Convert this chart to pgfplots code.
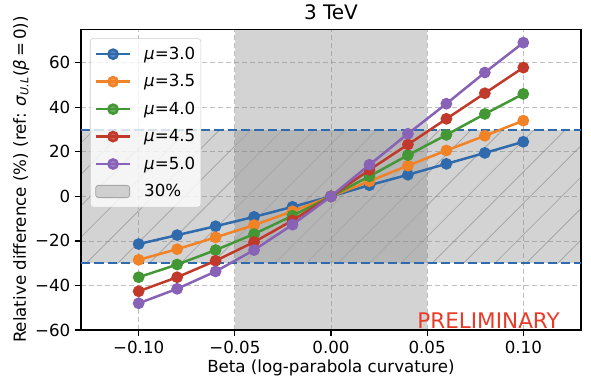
\documentclass[border=0pt]{standalone}
\usepackage{fontspec}
\setmainfont{DejaVu Sans}
\usepackage{pgfplots}
\pgfplotsset{compat=1.18}
\usetikzlibrary{patterns.meta}
\definecolor{cA}{RGB}{47,107,172}
\definecolor{cB}{RGB}{241,130,38}
\definecolor{cC}{RGB}{67,152,53}
\definecolor{cD}{RGB}{192,57,43}
\definecolor{cE}{RGB}{136,98,182}
\definecolor{prelim}{RGB}{233,60,40}
\definecolor{hatch}{RGB}{168,168,168}

\begin{document}
\begin{tikzpicture}
\begin{axis}[
  at={(0,0)}, anchor=south west,
  scale only axis, width=360pt, height=216.5pt,
  set layers, clip mode=individual,
  xmin=-0.13, xmax=0.13, ymin=-60, ymax=75,
  xtick={-0.1,-0.05,0,0.05,0.1},
  xticklabels={−0.10,−0.05,0.00,0.05,0.10},
  ytick={-60,-40,-20,0,20,40,60},
  yticklabels={−60,−40,−20,0,20,40,60},
  tick align=outside, xtick pos=bottom, ytick pos=left,
  major tick length=4.2pt,
  tick style={black, line width=0.9pt},
  axis line style={line width=0.9pt},
  grid=major,
  major grid style={gray, draw opacity=0.5, line width=0.6pt, dash pattern=on 3.6pt off 2.2pt},
  ticklabel style={font=\fontsize{12}{14}\selectfont},
  label style={font=\fontsize{12}{14}\selectfont},
  xlabel={Beta (log-parabola curvature)},
  xlabel style={at={(axis description cs:0.5,-0.142)}, anchor=base},
  ylabel={Relative difference (\%) (ref: \textit{σ}\textsubscript{\textit{U.L}}(\textit{β}\,=\,0))},
  ylabel style={at={(axis description cs:-0.11,0.5)}, anchor=base},
  every axis plot/.append style={line width=1.8pt, mark=*, mark size=3.3pt, mark options={solid}},
  legend style={at={(0.018,0.970)}, anchor=north west,
    font=\fontsize{12}{14}\selectfont, draw=black!20, rounded corners=2pt,
    fill=white, fill opacity=0.8, text opacity=1, row sep=5.4pt,
    inner xsep=3pt, inner ysep=4pt, nodes={inner xsep=1pt},
    /tikz/every odd column/.append style={column sep=8pt}},
  legend cell align=left,
  legend image code/.code={\draw[mark repeat=2,mark phase=2] plot coordinates {(0cm,0cm) (0.44cm,0cm) (0.88cm,0cm)};},
]
% shaded regions
\addplot[on layer=axis background, forget plot, draw=none, mark=none, fill=gray, fill opacity=0.35]
  coordinates {(-0.05,-60) (0.05,-60) (0.05,75) (-0.05,75)} -- cycle;
\addplot[on layer=axis background, forget plot, draw=none, mark=none, fill=gray, fill opacity=0.35]
  coordinates {(-0.13,-30) (0.13,-30) (0.13,30) (-0.13,30)} -- cycle;
\addplot[on layer=axis background, forget plot, draw=none, mark=none,
  pattern={Lines[angle=45,distance=16pt,line width=0.6pt]}, pattern color=hatch]
  coordinates {(-0.13,-30) (0.13,-30) (0.13,30) (-0.13,30)} -- cycle;
% 30% limits
\addplot[forget plot, cA, mark=none, line width=1.5pt, dash pattern=on 6.7pt off 2.9pt]
  coordinates {(-0.13,30) (0.13,30)};
\addplot[forget plot, cA, mark=none, line width=1.5pt, dash pattern=on 6.7pt off 2.9pt]
  coordinates {(-0.13,-30) (0.13,-30)};

\addplot[cA, mark options={fill=cA}] coordinates {
  (-0.10,-21.4) (-0.08,-17.4) (-0.06,-13.4) (-0.04,-9.2) (-0.02,-4.7) (0,0)
  (0.02,5.0) (0.04,9.7) (0.06,14.6) (0.08,19.5) (0.10,24.5)};
\addlegendentry{\textit{μ}=3.0}
\addplot[cB, mark options={fill=cB}] coordinates {
  (-0.10,-28.5) (-0.08,-23.7) (-0.06,-18.4) (-0.04,-12.9) (-0.02,-6.7) (0,0)
  (0.02,6.8) (0.04,13.8) (0.06,20.6) (0.08,27.2) (0.10,34.0)};
\addlegendentry{\textit{μ}=3.5}
\addplot[cC, mark options={fill=cC}] coordinates {
  (-0.10,-36.3) (-0.08,-30.6) (-0.06,-24.1) (-0.04,-16.9) (-0.02,-8.7) (0,0)
  (0.02,9.0) (0.04,18.5) (0.06,27.6) (0.08,37.0) (0.10,46.0)};
\addlegendentry{\textit{μ}=4.0}
\addplot[cD, mark options={fill=cD}] coordinates {
  (-0.10,-42.6) (-0.08,-36.3) (-0.06,-28.9) (-0.04,-20.5) (-0.02,-10.8) (0,0)
  (0.02,11.9) (0.04,23.3) (0.06,34.8) (0.08,46.3) (0.10,57.8)};
\addlegendentry{\textit{μ}=4.5}
\addplot[cE, mark options={fill=cE}] coordinates {
  (-0.10,-48.0) (-0.08,-41.5) (-0.06,-33.7) (-0.04,-24.1) (-0.02,-12.7) (0,0)
  (0.02,14.2) (0.04,28.1) (0.06,41.6) (0.08,55.6) (0.10,69.0)};
\addlegendentry{\textit{μ}=5.0}
\addlegendimage{legend image code/.code={\draw[fill=gray!45, draw=gray!70, line width=0.6pt] (0cm,-0.155cm) rectangle (0.86cm,0.155cm);}}
\addlegendentry{30\%}

\node[anchor=base, inner sep=0pt, font=\fontsize{14.4}{17}\selectfont]
  at (rel axis cs:0.5,1.034) {3 TeV};
\node[anchor=base east, inner sep=0pt, text=prelim, font=\fontsize{15.5}{18}\selectfont]
  at (rel axis cs:0.958,0.004) {PRELIMINARY};
\end{axis}
\pgfresetboundingbox
\path[use as bounding box] (-58.3pt,-36.7pt) rectangle (367.2pt,237.6pt);
\end{tikzpicture}
\end{document}
